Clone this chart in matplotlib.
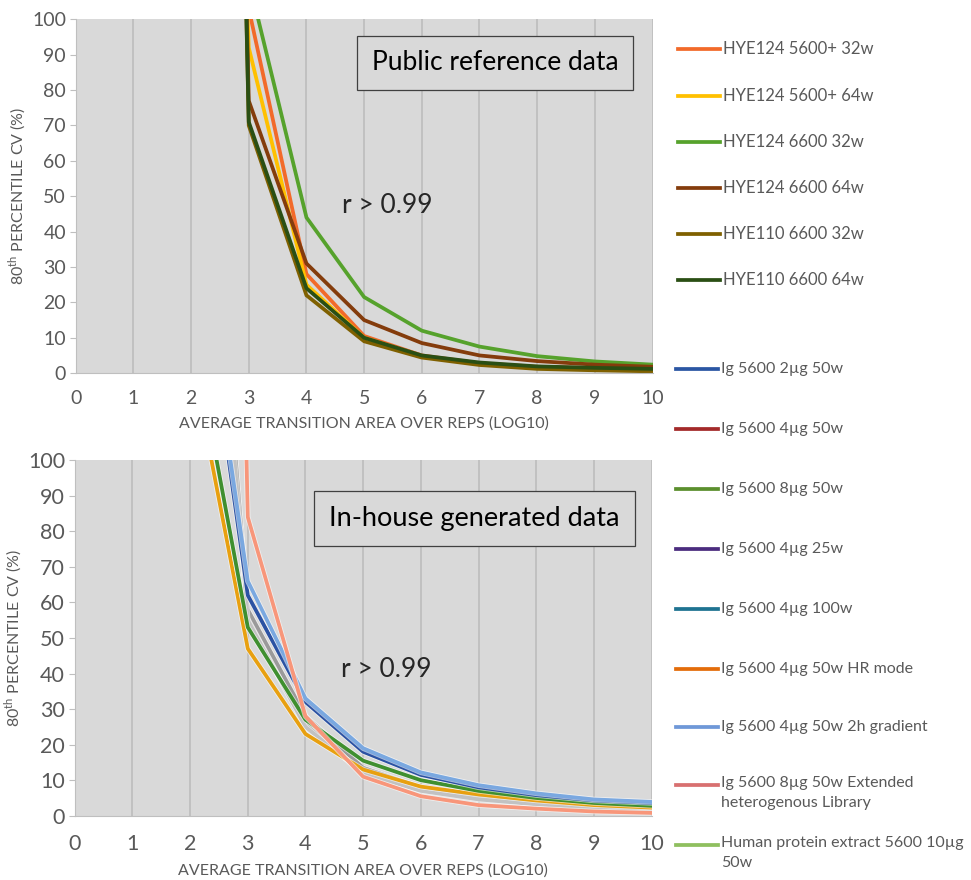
import matplotlib
matplotlib.use("Agg")
import matplotlib.pyplot as plt
import matplotlib.patheffects as pe
from matplotlib.lines import Line2D

plt.rcParams["font.family"] = ["Lato", "DejaVu Sans"]
plt.rcParams["mathtext.fontset"] = "custom"
plt.rcParams["mathtext.rm"] = "Lato"

# x positions (log10 of average transition area)
x = [2, 3, 4, 5, 6, 7, 8, 9, 10]

# --- public reference data ---
pub_labels = ["HYE124 5600+ 32w", "HYE124 5600+ 64w", "HYE124 6600 32w",
              "HYE124 6600 64w", "HYE110 6600 32w", "HYE110 6600 64w"]
pub_values = [
    [900, 103, 28, 10.5, 5.0, 2.8, 1.8, 1.4, 1.1],
    [500, 92, 25, 10.0, 4.8, 2.5, 1.5, 1.2, 1.0],
    [600, 111, 44, 21.5, 12.0, 7.5, 4.8, 3.3, 2.4],
    [800, 77, 31, 15.0, 8.5, 5.0, 3.4, 2.4, 1.8],
    [800, 70, 22, 9.0, 4.4, 2.3, 1.2, 0.8, 0.5],
    [800, 71, 24, 10.0, 5.0, 3.0, 1.9, 1.5, 1.2],
]
pub_colors = ["#f26a2a", "#ffc000", "#56a22c", "#843c0c", "#7f6000", "#2a4f14"]

# --- in-house generated data ---
inh_labels = ["Ig 5600 2\u00b5g 50w", "Ig 5600 4\u00b5g 50w", "Ig 5600 8\u00b5g 50w",
              "Ig 5600 4\u00b5g 25w", "Ig 5600 4\u00b5g 100w", "Ig 5600 4\u00b5g 50w HR mode",
              "Ig 5600 4\u00b5g 50w 2h gradient",
              "Ig 5600 8\u00b5g 50w Extended\nheterogenous Library",
              "Human protein extract 5600 10\u00b5g\n50w"]
inh_values = [
    [177, 62, 32, 18.0, 11.5, 8.0, 5.8, 4.3, 3.6],
    [240, 57, 27, 13.0, 7.5, 5.2, 3.6, 2.6, 1.9],
    [140, 53, 27, 15.5, 10.0, 7.0, 5.0, 3.6, 2.8],
    [256, 56, 26, 12.5, 7.2, 5.0, 3.4, 2.4, 1.6],
    [260, 58, 28, 13.5, 8.0, 5.5, 3.8, 2.8, 2.0],
    [131, 47, 23, 13.0, 8.2, 6.0, 4.3, 3.0, 2.3],
    [179, 66, 33, 19.0, 12.2, 8.6, 6.3, 4.6, 3.9],
    [800, 84, 28, 11.0, 5.5, 3.0, 2.0, 1.2, 0.8],
    [250, 55, 25, 12.0, 7.0, 4.6, 3.2, 2.2, 1.5],
]
# colours as drawn in the plot area vs. the legend swatches
inh_line_colors = ["#2b52a3", "#a9a9a9", "#3f8f2f", "#b8b8b8", "#9a9a9a",
                   "#e8a010", "#7aa8e0", "#f8967a", "#c2c2c2"]
inh_legend_colors = ["#2b56a3", "#a32a2a", "#5b8f2d", "#4b2c7f", "#1f7391",
                     "#e36c0a", "#6f98d8", "#d87070", "#8fbf5f"]

xticks = list(range(0, 11))
yticks = list(range(0, 101, 10))
xlabel = "AVERAGE TRANSITION AREA OVER REPS (LOG10)"
ylabel = "80$^{\\mathrm{th}}$ PERCENTILE CV (%)"

GRAY = "#595959"
BG = "#d9d9d9"

fig = plt.figure(figsize=(9.71, 8.8), dpi=100)
ax1 = fig.add_axes([0.078, 0.576, 0.594, 0.402])
ax2 = fig.add_axes([0.077, 0.073, 0.594, 0.404])


def style_axes(ax, tick_size, pad):
    ax.set_facecolor(BG)
    ax.set_xlim(0, 10)
    ax.set_ylim(0, 100)
    ax.set_xticks(xticks)
    ax.set_yticks(yticks)
    ax.grid(axis="x", color="#bdbdbd", linewidth=1.2)
    ax.set_axisbelow(True)
    for s in ["top", "right"]:
        ax.spines[s].set_visible(False)
    ax.spines["left"].set_color("#bfbfbf")
    ax.spines["bottom"].set_color("#bfbfbf")
    ax.tick_params(axis="y", length=4, color="#bfbfbf", labelsize=tick_size,
                   labelcolor=GRAY, pad=3)
    ax.tick_params(axis="x", length=0, labelsize=tick_size, labelcolor=GRAY, pad=pad)
    ax.set_xlabel(xlabel, fontsize=11.5, color=GRAY, labelpad=7)
    ax.set_ylabel(ylabel, fontsize=11.5, color=GRAY, labelpad=2)


for vals, c in zip(pub_values, pub_colors):
    ax1.plot(x, vals, color=c, linewidth=2.7, solid_joinstyle="miter")
style_axes(ax1, 14, 12)

halo = [pe.Stroke(linewidth=3.9, foreground="white", alpha=0.6), pe.Normal()]
order = [1, 3, 4, 8, 5, 2, 0, 6, 7]
for i in order:
    ax2.plot(x, inh_values[i], color=inh_line_colors[i], linewidth=2.7,
             path_effects=halo)
style_axes(ax2, 15.5, 13)

box = dict(boxstyle="square,pad=0.55", facecolor=BG, edgecolor="#404040", linewidth=0.9)
ax1.text(0.727, 0.878, "Public reference data", transform=ax1.transAxes,
         ha="center", va="center", fontsize=19, color="black", bbox=box)
ax2.text(0.693, 0.837, "In-house generated data", transform=ax2.transAxes,
         ha="center", va="center", fontsize=19.5, color="black", bbox=box)
ax1.text(0.54, 0.475, "r > 0.99", transform=ax1.transAxes, ha="center",
         va="center", fontsize=19, color="#262626")
ax2.text(0.54, 0.41, "r > 0.99", transform=ax2.transAxes, ha="center",
         va="center", fontsize=19, color="#262626")

# legend column on the right
W, H = 971.0, 880.0


def legend_entry(y_px, color, label, size, x0=678, x1=720):
    fig.add_artist(Line2D([x0 / W, x1 / W], [1 - y_px / H, 1 - y_px / H],
                          color=color, linewidth=2.7, transform=fig.transFigure))
    if "\n" in label:
        fig.text((x1 + 3) / W, 1 - (y_px - 9) / H, label, fontsize=size,
                 color=GRAY, ha="left", va="top", linespacing=1.5)
    else:
        fig.text((x1 + 3) / W, 1 - y_px / H, label, fontsize=size,
                 color=GRAY, ha="left", va="center")


pub_y = [49, 96, 142, 188, 234, 280]
for y, c, lab in zip(pub_y, pub_colors, pub_labels):
    legend_entry(y, c, lab, 12)

inh_y = [369, 429, 489, 549, 609, 669, 727, 785, 845]
for y, c, lab in zip(inh_y, inh_legend_colors, inh_labels):
    legend_entry(y, c, lab, 11.5, x0=676, x1=718)

fig.savefig("out.png", dpi=100, facecolor="white")
